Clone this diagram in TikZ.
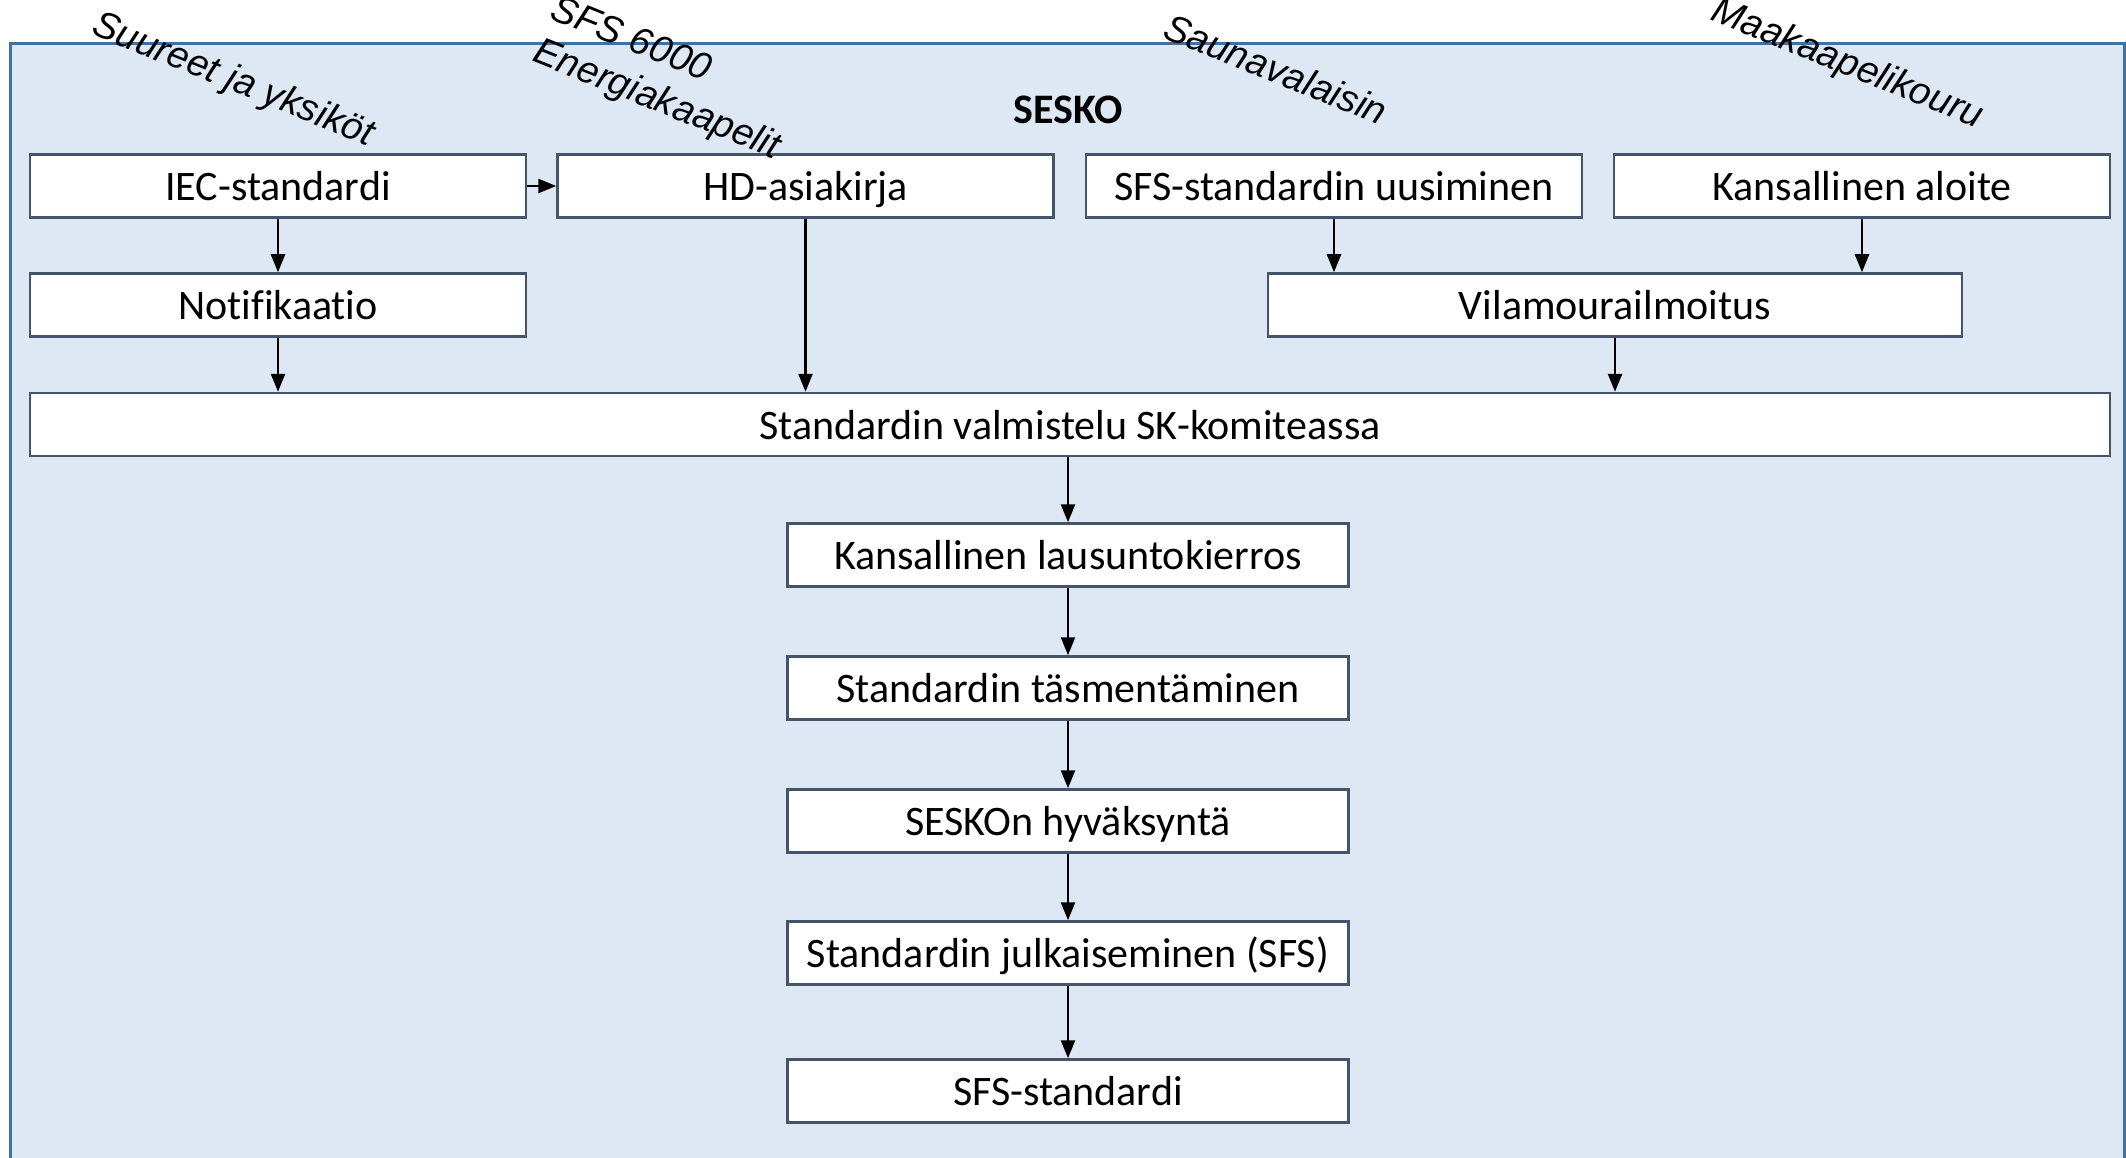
\documentclass[tikz,border=0pt]{standalone}
\usepackage{fontspec}
\setmainfont{Carlito}[Ligatures=CommonOff]
\newfontfamily\lblfont{Liberation Sans}
\usetikzlibrary{arrows.meta}
\definecolor{bgfill}{HTML}{DEE8F4}
\definecolor{bgline}{HTML}{41719C}
\definecolor{boxline}{HTML}{44546A}
\tikzset{
  stepbox/.style={draw=boxline, line width=2.5pt, fill=white, inner sep=0pt,
    minimum height=63pt, text height=36pt, text depth=7pt,
    font=\fontsize{42}{50}\selectfont},
  topbox/.style={stepbox, minimum width=496pt},
  chainbox/.style={stepbox, minimum width=561pt},
  arr/.style={draw=black, line width=2.5pt, -{Triangle[length=18pt,width=14pt]}},
  rlabel/.style={font=\lblfont\itshape\fontsize{38}{46}\selectfont, rotate=-22, inner sep=0pt, align=left}
}
\begin{document}
\begin{tikzpicture}[x=1pt,y=-1pt]
\useasboundingbox (0,0) rectangle (2126,1158);
\clip (0,0) rectangle (2126,1158);
\draw[fill=bgfill, draw=bgline, line width=3pt] (10,44) rectangle (2124,1175);

\node[font=\bfseries\fontsize{42}{50}\selectfont] (sesko) at (1068,110) {SESKO};

\node[topbox] (iec) at (278,186) {IEC-standardi};
\node[topbox] (hd) at (805.5,186) {HD-asiakirja};
\node[topbox] (sfsu) at (1334,186) {SFS-standardin uusiminen};
\node[topbox] (kal) at (1862,186) {Kansallinen aloite};
\node[topbox] (notif) at (278,305) {Notifikaatio};
\node[stepbox, minimum width=694pt] (vila) at (1615,305) {Vilamourailmoitus};
\node[stepbox, minimum width=2080pt] (valm) at (1070,424.5) {Standardin valmistelu SK-komiteassa};
\node[chainbox] (laus) at (1068,555) {Kansallinen lausuntokierros};
\node[chainbox] (tasm) at (1068,688) {Standardin täsmentäminen};
\node[chainbox] (hyv) at (1068,821) {SESKOn hyväksyntä};
\node[chainbox] (julk) at (1068,953) {Standardin julkaiseminen (SFS)};
\node[chainbox] (sfs) at (1068,1091) {SFS-standardi};

\node[rlabel] (l1) at (233,81) {Suureet ja yksiköt};
\node[rlabel] (l2) at (665,80) {SFS 6000\\Energiakaapelit};
\node[rlabel] (l3) at (1276,69) {Saunavalaisin};
\node[rlabel] (l4) at (1847,65) {Maakaapelikouru};

\draw[arr] (iec.east) -- (hd.west);
\draw[arr] (iec.south) -- (notif.north);
\draw[arr] (notif.south) -- (notif.south |- valm.north);
\draw[arr] (hd.south) -- (hd.south |- valm.north);
\draw[arr] (sfsu.south) -- (sfsu.south |- vila.north);
\draw[arr] (kal.south) -- (kal.south |- vila.north);
\draw[arr] (vila.south) -- (vila.south |- valm.north);
\draw[arr] (valm.south -| laus.north) -- (laus.north);
\draw[arr] (laus.south) -- (tasm.north);
\draw[arr] (tasm.south) -- (hyv.north);
\draw[arr] (hyv.south) -- (julk.north);
\draw[arr] (julk.south) -- (sfs.north);
\end{tikzpicture}
\end{document}
